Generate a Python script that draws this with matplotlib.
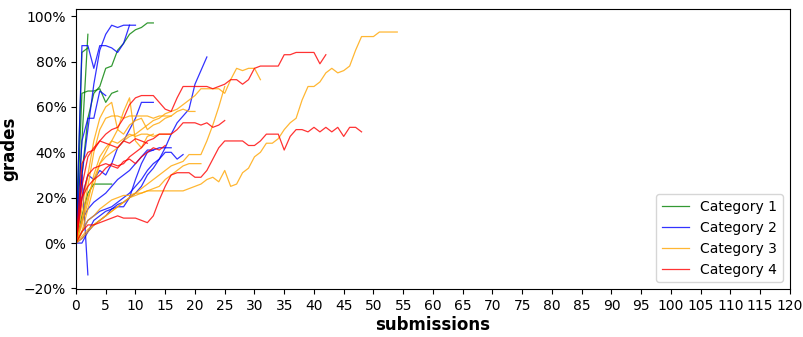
import matplotlib
matplotlib.use("Agg")
import matplotlib.pyplot as plt
from matplotlib.ticker import PercentFormatter, MultipleLocator

# grade trajectories per student, one value per submission (fraction of max grade)
cat1_runs = [
    [0, 0.45, 0.92],
    [0, 0.30, 0.55, 0.66, 0.69, 0.77, 0.78, 0.85, 0.88, 0.92, 0.94, 0.95, 0.97, 0.97],
    [0, 0.66, 0.67, 0.67, 0.68, 0.62, 0.66, 0.67],
    [0, 0.84, 0.86],
    [0, 0.12, 0.22, 0.26, 0.26, 0.26, 0.26],
]
cat2_runs = [
    [0, 0.02, 0.05, 0.08, 0.10, 0.12, 0.15, 0.17, 0.18, 0.20, 0.22, 0.25, 0.30, 0.33,
     0.37, 0.42, 0.48, 0.53, 0.56, 0.59, 0.70, 0.76, 0.82],
    [0, 0.30, 0.50, 0.70, 0.85, 0.92, 0.96, 0.95, 0.96, 0.96, 0.96],
    [0, 0.87, 0.87, 0.77, 0.87, 0.87, 0.86, 0.84, 0.88, 0.96],
    [0, 0.20, 0.30, 0.28, 0.32, 0.30, 0.35, 0.42, 0.45, 0.50, 0.55, 0.62, 0.62, 0.62],
    [0, 0.10, 0.15, 0.18, 0.20, 0.22, 0.25, 0.28, 0.30, 0.32, 0.35, 0.38, 0.41, 0.41,
     0.42, 0.42, 0.42],
    [0, 0.05, 0.10, 0.12, 0.14, 0.15, 0.16, 0.18, 0.20, 0.22, 0.25, 0.28, 0.32, 0.35,
     0.37, 0.40, 0.40, 0.37, 0.39],
    [0, 0.30, -0.14],
    [0, 0.45, 0.55, 0.55, 0.67, 0.65],
    [0, 0.00, 0.05, 0.10, 0.12, 0.14, 0.15, 0.16, 0.16, 0.20, 0.28, 0.35, 0.40, 0.41],
]
cat3_runs = [
    [0, 0.05, 0.10, 0.12, 0.15, 0.17, 0.19, 0.20, 0.21, 0.21, 0.22, 0.22, 0.23, 0.23,
     0.23, 0.23, 0.23, 0.23, 0.23, 0.24, 0.25, 0.26, 0.28, 0.29, 0.27, 0.32, 0.25,
     0.26, 0.31, 0.33, 0.38, 0.40, 0.44, 0.44, 0.46, 0.50, 0.53, 0.55, 0.63, 0.69,
     0.69, 0.71, 0.75, 0.77, 0.75, 0.76, 0.78, 0.85, 0.91, 0.91, 0.91, 0.93, 0.93,
     0.93, 0.93],
    [0, 0.10, 0.20, 0.28, 0.35, 0.38, 0.40, 0.42, 0.45, 0.47, 0.48, 0.50, 0.52, 0.54,
     0.55, 0.57, 0.58, 0.59, 0.61, 0.63, 0.65, 0.68, 0.68, 0.68, 0.68, 0.66, 0.72,
     0.77, 0.76, 0.77, 0.77, 0.72],
    [0, 0.03, 0.06, 0.08, 0.10, 0.12, 0.14, 0.16, 0.18, 0.20, 0.22, 0.24, 0.26, 0.28,
     0.30, 0.32, 0.34, 0.35, 0.36, 0.39, 0.39, 0.39, 0.45, 0.52, 0.60, 0.69],
    [0, 0.10, 0.25, 0.40, 0.50, 0.55, 0.56, 0.56, 0.55, 0.56, 0.56, 0.56, 0.56, 0.55,
     0.56, 0.56, 0.56],
    [0, 0.05, 0.15, 0.25, 0.35, 0.40, 0.45, 0.50, 0.48, 0.52, 0.54, 0.55, 0.50, 0.52,
     0.53, 0.55, 0.56, 0.58, 0.59, 0.58, 0.58],
    [0, 0.15, 0.30, 0.45, 0.55, 0.60, 0.62, 0.50, 0.58, 0.64, 0.45, 0.42, 0.47, 0.48],
    [0, 0.02, 0.05, 0.08, 0.10, 0.12, 0.14, 0.16, 0.18, 0.20, 0.21, 0.22, 0.23, 0.24,
     0.25, 0.28, 0.30, 0.32, 0.34, 0.35, 0.35, 0.35],
    [0, 0.08, 0.18, 0.30, 0.38, 0.42, 0.45, 0.44, 0.46, 0.48, 0.47, 0.48, 0.48, 0.47,
     0.48, 0.48, 0.48],
]
cat4_runs = [
    [0, 0.25, 0.38, 0.42, 0.45, 0.48, 0.50, 0.51, 0.55, 0.61, 0.64, 0.65, 0.65, 0.65,
     0.62, 0.59, 0.58, 0.64, 0.69, 0.69, 0.69, 0.69, 0.69, 0.68, 0.69, 0.70, 0.72,
     0.72, 0.70, 0.72, 0.77, 0.78, 0.78, 0.78, 0.78, 0.83, 0.83, 0.84, 0.84, 0.84,
     0.84, 0.79, 0.83],
    [0, 0.05, 0.08, 0.08, 0.09, 0.10, 0.11, 0.12, 0.11, 0.11, 0.11, 0.10, 0.09, 0.12,
     0.19, 0.25, 0.30, 0.31, 0.31, 0.31, 0.29, 0.29, 0.32, 0.37, 0.42, 0.45, 0.45,
     0.45, 0.45, 0.43, 0.43, 0.45, 0.48, 0.48, 0.48, 0.41, 0.47, 0.50, 0.50, 0.49,
     0.51, 0.49, 0.51, 0.49, 0.51, 0.47, 0.51, 0.51, 0.49],
    [0, 0.20, 0.25, 0.28, 0.30, 0.33, 0.35, 0.34, 0.35, 0.38, 0.40, 0.42, 0.45, 0.46,
     0.48, 0.48, 0.48, 0.50, 0.53, 0.53, 0.53, 0.52, 0.53, 0.51, 0.52, 0.54],
    [0, 0.35, 0.40, 0.41, 0.45, 0.44, 0.43, 0.42, 0.45, 0.44, 0.46, 0.45, 0.44],
    [0, 0.20, 0.30, 0.33, 0.34, 0.35, 0.34, 0.33, 0.36, 0.37, 0.35, 0.38, 0.40, 0.42,
     0.41, 0.43],
]

categories = ["Category 1", "Category 2", "Category 3", "Category 4"]
colors = ["green", "blue", "orange", "red"]
all_runs = [cat1_runs, cat2_runs, cat3_runs, cat4_runs]

fig = plt.figure(figsize=(8.04, 3.37), dpi=100)
ax = fig.add_axes([0.0945, 0.142, 0.888, 0.831])

for name, color, runs in zip(categories, colors, all_runs):
    for i, run in enumerate(runs):
        ax.plot(range(len(run)), run, color=color, alpha=0.8, linewidth=0.9,
                label=name if i == 0 else None)

ax.set_xlim(0, 120)
ax.set_ylim(-0.203, 1.031)
ax.xaxis.set_major_locator(MultipleLocator(5))
ax.yaxis.set_major_formatter(PercentFormatter(1.0, decimals=0))
ax.set_xlabel("submissions", fontsize=12, fontweight="bold", labelpad=2)
ax.set_ylabel("grades", fontsize=12, fontweight="bold")
ax.legend(loc="lower right")

fig.savefig("out.png", dpi=100)
